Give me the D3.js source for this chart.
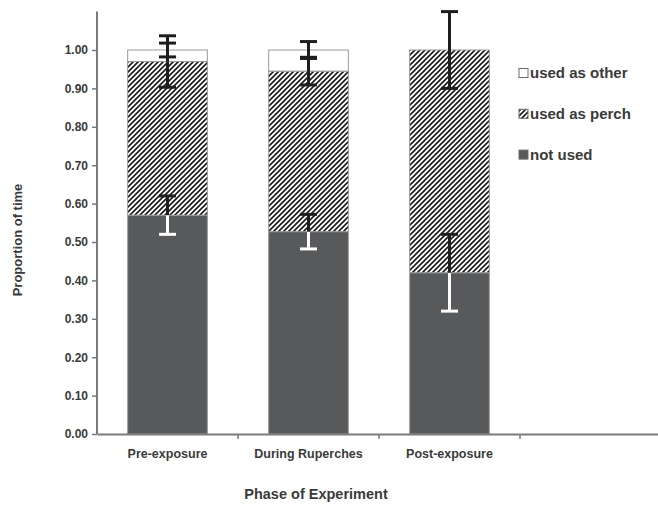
<!DOCTYPE html>
<html>
<head>
<meta charset="utf-8">
<script src="https://cdn.jsdelivr.net/npm/d3@7"></script>
<style>
  html, body { margin: 0; padding: 0; background: #fff; }
  svg { display: block; }
  text { font-family: "Liberation Sans", Arial, sans-serif; font-weight: bold; fill: #3a3a3a; }
</style>
</head>
<body>
<svg id="chart" width="658" height="506"></svg>
<script>
// Phases of the experiment (a fourth, empty slot follows on the axis)
const categories = ["Pre-exposure", "During Ruperches", "Post-exposure"];
const axisSlots = [...categories, ""];

// Mean proportion of time for each stacked segment
const notUsed     = [0.570, 0.527, 0.420];
const usedAsPerch = [0.400, 0.418, 0.580];
const usedAsOther = [0.030, 0.055, 0.000];

// Error-bar half-widths for each segment
const errNotUsed = [0.050, 0.045, 0.100];
const errPerch   = [0.067, 0.036, 0.100];
const errOther   = [0.018, 0.022, 0.000];

const yTicks = [0, 0.1, 0.2, 0.3, 0.4, 0.5, 0.6, 0.7, 0.8, 0.9, 1.0];
const legendItems = ["used as other", "used as perch", "not used"];

const svg = d3.select("#chart");
const plotLeft = 97, plotRight = 661, plotBottom = 434, plotTop = 11.6;

const x = d3.scaleBand().domain(axisSlots).range([plotLeft, plotRight]).padding(0);
const y = d3.scaleLinear().domain([0, 1.1]).range([plotBottom, plotTop]);
const barW = x.step() * 0.565;

// diagonal hatch for the "used as perch" segment
const defs = svg.append("defs");
const pat = defs.append("pattern")
  .attr("id", "hatch").attr("patternUnits", "userSpaceOnUse")
  .attr("width", 5).attr("height", 5);
pat.append("rect").attr("width", 5).attr("height", 5).attr("fill", "#fff");
pat.append("path")
  .attr("d", "M-1,6 L6,-1 M-2,2 L2,-2 M3,7 L7,3")
  .attr("stroke", "#1a1a1a").attr("stroke-width", 1.6);

const stacked = categories.map((c, i) => {
  const a = notUsed[i], b = a + usedAsPerch[i], t = b + usedAsOther[i];
  return { c, i, segs: [
    { key: "not", y0: 0, y1: a, fill: "#58595b" },
    { key: "perch", y0: a, y1: b, fill: "url(#hatch)" },
    { key: "other", y0: b, y1: t, fill: "#ffffff" }
  ]};
});

const bars = svg.append("g");
stacked.forEach(d => {
  const cx = x(d.c) + x.step() / 2;
  bars.selectAll(null).data(d.segs.filter(s => s.y1 > s.y0)).enter()
    .append("rect")
    .attr("x", cx - barW / 2)
    .attr("width", barW)
    .attr("y", s => y(s.y1))
    .attr("height", s => y(s.y0) - y(s.y1))
    .attr("fill", s => s.fill)
    .attr("stroke", "#9a9a9a")
    .attr("stroke-width", 1);
});

// error bars
const eb = svg.append("g");
const capW = 17;
function errBar(cx, v0, v1, color) {
  eb.append("line").attr("x1", cx).attr("x2", cx)
    .attr("y1", y(v0)).attr("y2", y(v1))
    .attr("stroke", color).attr("stroke-width", 3);
  eb.append("line").attr("x1", cx - capW / 2).attr("x2", cx + capW / 2)
    .attr("y1", y(v1)).attr("y2", y(v1))
    .attr("stroke", color).attr("stroke-width", 3);
}
categories.forEach((c, i) => {
  const cx = x(c) + x.step() / 2;
  const a = notUsed[i], b = a + usedAsPerch[i], t = b + usedAsOther[i];
  // not used: lower arm white, upper arm black
  errBar(cx, a, a - errNotUsed[i], "#ffffff");
  errBar(cx, a, a + errNotUsed[i], "#1e1e1e");
  // used as perch
  errBar(cx, b, b - errPerch[i], "#1e1e1e");
  errBar(cx, b, b + errPerch[i], "#1e1e1e");
  // used as other
  if (errOther[i] > 0) {
    errBar(cx, t, t - errOther[i], "#1e1e1e");
    errBar(cx, t, t + errOther[i], "#1e1e1e");
  }
});

// y axis
const yAxis = svg.append("g").attr("transform", `translate(${plotLeft},0)`)
  .call(d3.axisLeft(y).tickValues(yTicks).tickFormat(d3.format(".2f")).tickSize(5).tickPadding(4));
yAxis.select(".domain").attr("d", `M0,${plotTop}V${plotBottom}`).attr("stroke", "#7a7a7a").attr("stroke-width", 2);
yAxis.selectAll(".tick line").attr("stroke", "#7a7a7a").attr("stroke-width", 1.5);
yAxis.selectAll(".tick text").attr("font-size", 12).style("fill", "#3a3a3a");

// x axis with ticks between the categories
const xAxis = svg.append("g").attr("transform", `translate(0,${plotBottom})`)
  .call(d3.axisBottom(x).tickSize(0).tickPadding(15));
xAxis.select(".domain").attr("stroke", "#7a7a7a").attr("stroke-width", 2);
xAxis.selectAll(".tick text").attr("font-size", 12.5).style("fill", "#3a3a3a");
xAxis.selectAll(null).data(axisSlots.slice(1)).enter().append("line")
  .attr("x1", d => x(d)).attr("x2", d => x(d))
  .attr("y1", 0).attr("y2", 5)
  .attr("stroke", "#7a7a7a").attr("stroke-width", 1.5);

// axis titles
svg.append("text").attr("x", 316).attr("y", 499)
  .attr("text-anchor", "middle").attr("font-size", 14.5)
  .text("Phase of Experiment");
svg.append("text")
  .attr("transform", "translate(22,240) rotate(-90)")
  .attr("text-anchor", "middle").attr("font-size", 13)
  .text("Proportion of time");

// legend
const legendFills = ["#ffffff", "url(#hatch)", "#58595b"];
const lg = svg.append("g");
legendItems.forEach((t, i) => {
  const cy = 73 + i * 40.8;
  lg.append("rect").attr("x", 519).attr("y", cy - 4.5).attr("width", 9).attr("height", 9)
    .attr("fill", legendFills[i]).attr("stroke", "#6a6a6a").attr("stroke-width", 1);
  lg.append("text").attr("x", 530).attr("y", cy + 5).attr("font-size", 15).text(t);
});
</script>
</body>
</html>
